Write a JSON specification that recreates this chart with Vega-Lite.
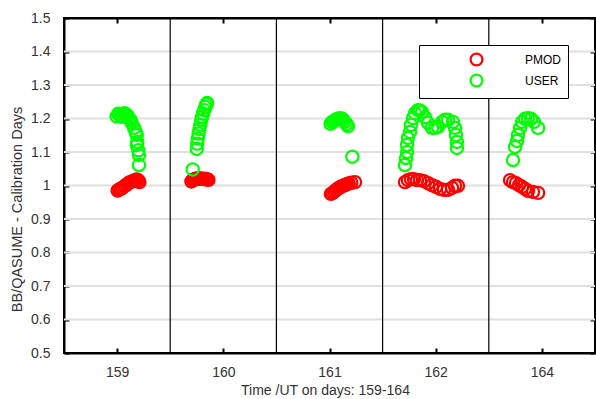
{
  "$schema": "https://vega.github.io/schema/vega-lite/v6.json",
  "width": 531,
  "height": 335,
  "autosize": {"type": "none"},
  "padding": {"left": 64, "top": 18, "right": 1, "bottom": 46},
  "background": "white",
  "config": {
    "view": {"stroke": "#000", "strokeWidth": 2},
    "font": "Liberation Sans",
    "axis": {
      "labelFont": "Liberation Sans",
      "titleFont": "Liberation Sans",
      "labelFontSize": 14,
      "titleFontSize": 14,
      "labelColor": "#333",
      "titleColor": "#333",
      "titleFontWeight": "normal",
      "domainColor": "#000",
      "domainWidth": 2,
      "tickColor": "#000",
      "tickWidth": 2,
      "tickSize": -5,
      "grid": false
    }
  },
  "layer": [
    {
      "data": {"values": [{"g": 0.6}, {"g": 0.7}, {"g": 0.8}, {"g": 0.9}, {"g": 1.0}, {"g": 1.1}, {"g": 1.2}, {"g": 1.3}, {"g": 1.4}]},
      "mark": {"type": "rule", "color": "#e0e0e0", "strokeWidth": 2},
      "encoding": {
        "y": {
          "field": "g", "type": "quantitative",
          "scale": {"domain": [0.5, 1.5], "nice": false, "zero": false},
          "axis": {"orient": "right", "labels": false, "title": null, "values": [0.5, 0.6, 0.7, 0.8, 0.9, 1.0, 1.1, 1.2, 1.3, 1.4, 1.5]}
        }
      }
    },
    {
      "data": {"values": [{"sep": 1.5}, {"sep": 2.5}, {"sep": 3.5}, {"sep": 4.5}]},
      "mark": {"type": "rule", "color": "#000", "strokeWidth": 1.2},
      "encoding": {
        "x": {
          "field": "sep", "type": "quantitative",
          "scale": {"domain": [0.5, 5.5], "nice": false, "zero": false},
          "axis": {"orient": "top", "labels": false, "title": null, "values": [1, 2, 3, 4, 5]}
        }
      }
    },
    {
      "data": {"values": [
        {"x": 1.005, "y": 0.985, "series": "PMOD"},
        {"x": 1.02, "y": 0.988, "series": "PMOD"},
        {"x": 1.035, "y": 0.99, "series": "PMOD"},
        {"x": 1.05, "y": 0.993, "series": "PMOD"},
        {"x": 1.065, "y": 0.997, "series": "PMOD"},
        {"x": 1.08, "y": 1.0, "series": "PMOD"},
        {"x": 1.095, "y": 1.004, "series": "PMOD"},
        {"x": 1.11, "y": 1.008, "series": "PMOD"},
        {"x": 1.125, "y": 1.01, "series": "PMOD"},
        {"x": 1.14, "y": 1.012, "series": "PMOD"},
        {"x": 1.155, "y": 1.014, "series": "PMOD"},
        {"x": 1.17, "y": 1.016, "series": "PMOD"},
        {"x": 1.185, "y": 1.018, "series": "PMOD"},
        {"x": 1.2, "y": 1.015, "series": "PMOD"},
        {"x": 1.21, "y": 1.01, "series": "PMOD"},
        {"x": 1.7, "y": 1.012, "series": "PMOD"},
        {"x": 1.712, "y": 1.016, "series": "PMOD"},
        {"x": 1.725, "y": 1.018, "series": "PMOD"},
        {"x": 1.74, "y": 1.02, "series": "PMOD"},
        {"x": 1.755, "y": 1.021, "series": "PMOD"},
        {"x": 1.77, "y": 1.02, "series": "PMOD"},
        {"x": 1.785, "y": 1.021, "series": "PMOD"},
        {"x": 1.8, "y": 1.02, "series": "PMOD"},
        {"x": 1.815, "y": 1.019, "series": "PMOD"},
        {"x": 1.83, "y": 1.02, "series": "PMOD"},
        {"x": 1.845, "y": 1.018, "series": "PMOD"},
        {"x": 1.86, "y": 1.017, "series": "PMOD"},
        {"x": 3.014, "y": 0.975, "series": "PMOD"},
        {"x": 3.03, "y": 0.978, "series": "PMOD"},
        {"x": 3.045, "y": 0.982, "series": "PMOD"},
        {"x": 3.06, "y": 0.986, "series": "PMOD"},
        {"x": 3.075, "y": 0.99, "series": "PMOD"},
        {"x": 3.09, "y": 0.993, "series": "PMOD"},
        {"x": 3.105, "y": 0.996, "series": "PMOD"},
        {"x": 3.12, "y": 0.998, "series": "PMOD"},
        {"x": 3.135, "y": 1.0, "series": "PMOD"},
        {"x": 3.15, "y": 1.002, "series": "PMOD"},
        {"x": 3.165, "y": 1.004, "series": "PMOD"},
        {"x": 3.18, "y": 1.006, "series": "PMOD"},
        {"x": 3.205, "y": 1.008, "series": "PMOD"},
        {"x": 3.24, "y": 1.01, "series": "PMOD"},
        {"x": 3.711, "y": 1.01, "series": "PMOD"},
        {"x": 3.739, "y": 1.016, "series": "PMOD"},
        {"x": 3.767, "y": 1.019, "series": "PMOD"},
        {"x": 3.795, "y": 1.019, "series": "PMOD"},
        {"x": 3.824, "y": 1.016, "series": "PMOD"},
        {"x": 3.852, "y": 1.016, "series": "PMOD"},
        {"x": 3.89, "y": 1.013, "series": "PMOD"},
        {"x": 3.928, "y": 1.007, "series": "PMOD"},
        {"x": 3.965, "y": 1.001, "series": "PMOD"},
        {"x": 4.003, "y": 0.996, "series": "PMOD"},
        {"x": 4.041, "y": 0.99, "series": "PMOD"},
        {"x": 4.078, "y": 0.987, "series": "PMOD"},
        {"x": 4.116, "y": 0.987, "series": "PMOD"},
        {"x": 4.154, "y": 0.993, "series": "PMOD"},
        {"x": 4.182, "y": 0.999, "series": "PMOD"},
        {"x": 4.209, "y": 0.999, "series": "PMOD"},
        {"x": 4.7, "y": 1.016, "series": "PMOD"},
        {"x": 4.728, "y": 1.01, "series": "PMOD"},
        {"x": 4.756, "y": 1.007, "series": "PMOD"},
        {"x": 4.784, "y": 1.001, "series": "PMOD"},
        {"x": 4.813, "y": 0.996, "series": "PMOD"},
        {"x": 4.841, "y": 0.99, "series": "PMOD"},
        {"x": 4.869, "y": 0.984, "series": "PMOD"},
        {"x": 4.916, "y": 0.981, "series": "PMOD"},
        {"x": 4.964, "y": 0.978, "series": "PMOD"},
        {"x": 0.995, "y": 1.206, "series": "USER"},
        {"x": 1.01, "y": 1.214, "series": "USER"},
        {"x": 1.025, "y": 1.21, "series": "USER"},
        {"x": 1.04, "y": 1.205, "series": "USER"},
        {"x": 1.055, "y": 1.212, "series": "USER"},
        {"x": 1.07, "y": 1.216, "series": "USER"},
        {"x": 1.085, "y": 1.212, "series": "USER"},
        {"x": 1.1, "y": 1.208, "series": "USER"},
        {"x": 1.115, "y": 1.2, "series": "USER"},
        {"x": 1.128, "y": 1.195, "series": "USER"},
        {"x": 1.137, "y": 1.187, "series": "USER"},
        {"x": 1.16, "y": 1.172, "series": "USER"},
        {"x": 1.175, "y": 1.16, "series": "USER"},
        {"x": 1.185, "y": 1.151, "series": "USER"},
        {"x": 1.19, "y": 1.13, "series": "USER"},
        {"x": 1.185, "y": 1.121, "series": "USER"},
        {"x": 1.2, "y": 1.105, "series": "USER"},
        {"x": 1.206, "y": 1.091, "series": "USER"},
        {"x": 1.206, "y": 1.061, "series": "USER"},
        {"x": 1.712, "y": 1.048, "series": "USER"},
        {"x": 1.75, "y": 1.109, "series": "USER"},
        {"x": 1.755, "y": 1.125, "series": "USER"},
        {"x": 1.76, "y": 1.14, "series": "USER"},
        {"x": 1.768, "y": 1.155, "series": "USER"},
        {"x": 1.775, "y": 1.168, "series": "USER"},
        {"x": 1.783, "y": 1.18, "series": "USER"},
        {"x": 1.792, "y": 1.195, "series": "USER"},
        {"x": 1.8, "y": 1.205, "series": "USER"},
        {"x": 1.81, "y": 1.215, "series": "USER"},
        {"x": 1.82, "y": 1.225, "series": "USER"},
        {"x": 1.83, "y": 1.234, "series": "USER"},
        {"x": 1.84, "y": 1.242, "series": "USER"},
        {"x": 1.848, "y": 1.246, "series": "USER"},
        {"x": 3.01, "y": 1.184, "series": "USER"},
        {"x": 3.025, "y": 1.19, "series": "USER"},
        {"x": 3.04, "y": 1.192, "series": "USER"},
        {"x": 3.055, "y": 1.196, "series": "USER"},
        {"x": 3.07, "y": 1.198, "series": "USER"},
        {"x": 3.085, "y": 1.2, "series": "USER"},
        {"x": 3.1, "y": 1.2, "series": "USER"},
        {"x": 3.115, "y": 1.2, "series": "USER"},
        {"x": 3.13, "y": 1.196, "series": "USER"},
        {"x": 3.145, "y": 1.19, "series": "USER"},
        {"x": 3.16, "y": 1.183, "series": "USER"},
        {"x": 3.174, "y": 1.177, "series": "USER"},
        {"x": 3.215, "y": 1.086, "series": "USER"},
        {"x": 3.711, "y": 1.061, "series": "USER"},
        {"x": 3.72, "y": 1.082, "series": "USER"},
        {"x": 3.73, "y": 1.1, "series": "USER"},
        {"x": 3.73, "y": 1.121, "series": "USER"},
        {"x": 3.739, "y": 1.142, "series": "USER"},
        {"x": 3.758, "y": 1.16, "series": "USER"},
        {"x": 3.767, "y": 1.181, "series": "USER"},
        {"x": 3.786, "y": 1.201, "series": "USER"},
        {"x": 3.805, "y": 1.216, "series": "USER"},
        {"x": 3.833, "y": 1.225, "series": "USER"},
        {"x": 3.85, "y": 1.224, "series": "USER"},
        {"x": 3.871, "y": 1.219, "series": "USER"},
        {"x": 3.899, "y": 1.204, "series": "USER"},
        {"x": 3.928, "y": 1.187, "series": "USER"},
        {"x": 3.965, "y": 1.172, "series": "USER"},
        {"x": 3.994, "y": 1.172, "series": "USER"},
        {"x": 4.022, "y": 1.175, "series": "USER"},
        {"x": 4.06, "y": 1.19, "series": "USER"},
        {"x": 4.088, "y": 1.196, "series": "USER"},
        {"x": 4.116, "y": 1.196, "series": "USER"},
        {"x": 4.163, "y": 1.19, "series": "USER"},
        {"x": 4.182, "y": 1.172, "series": "USER"},
        {"x": 4.191, "y": 1.151, "series": "USER"},
        {"x": 4.2, "y": 1.13, "series": "USER"},
        {"x": 4.2, "y": 1.112, "series": "USER"},
        {"x": 4.728, "y": 1.076, "series": "USER"},
        {"x": 4.747, "y": 1.115, "series": "USER"},
        {"x": 4.766, "y": 1.133, "series": "USER"},
        {"x": 4.775, "y": 1.151, "series": "USER"},
        {"x": 4.794, "y": 1.172, "series": "USER"},
        {"x": 4.813, "y": 1.19, "series": "USER"},
        {"x": 4.841, "y": 1.199, "series": "USER"},
        {"x": 4.869, "y": 1.201, "series": "USER"},
        {"x": 4.898, "y": 1.199, "series": "USER"},
        {"x": 4.926, "y": 1.19, "series": "USER"},
        {"x": 4.964, "y": 1.172, "series": "USER"}
      ]},
      "mark": {"type": "point", "shape": "circle", "filled": false, "strokeWidth": 2.2, "size": 150, "opacity": 1},
      "encoding": {
        "x": {
          "field": "x", "type": "quantitative",
          "scale": {"domain": [0.5, 5.5], "nice": false, "zero": false},
          "axis": {
            "orient": "bottom",
            "values": [1, 2, 3, 4, 5],
            "labelExpr": "['159','160','161','162','164'][datum.value - 1]",
            "labelPadding": 17,
            "title": "Time /UT on days: 159-164",
            "titleX": 261,
            "titleY": 41,
            "titleBaseline": "alphabetic"
          }
        },
        "y": {
          "field": "y", "type": "quantitative",
          "scale": {"domain": [0.5, 1.5], "nice": false, "zero": false},
          "axis": {
            "orient": "left",
            "values": [0.5, 0.6, 0.7, 0.8, 0.9, 1.0, 1.1, 1.2, 1.3, 1.4, 1.5],
            "format": ".1~f",
            "labelPadding": 19,
            "title": "BB/QASUME - Calibration Days",
            "titleFontSize": 14.5,
            "titleX": -47,
            "titleY": 191,
            "titleAlign": "center",
            "titleBaseline": "middle",
            "titleAngle": -90
          }
        },
        "color": {
          "field": "series", "type": "nominal",
          "scale": {"domain": ["PMOD", "USER"], "range": ["#ff0000", "#00ff00"]},
          "legend": {
            "orient": "none",
            "legendX": 355,
            "legendY": 27,
            "title": null,
            "padding": 7,
            "strokeColor": "#000",
            "fillColor": "#fff",
            "symbolType": "circle",
            "symbolSize": 140,
            "symbolStrokeWidth": 2.2,
            "symbolOffset": 43,
            "labelOffset": 41,
            "labelFont": "Liberation Sans",
            "labelFontSize": 12,
            "labelColor": "#000",
            "labelExpr": "datum.label + ' '",
            "rowPadding": 0,
            "encode": {"legend": {"update": {"strokeWidth": {"value": 2.5}}}}
          }
        }
      }
    }
  ],
  "resolve": {"axis": {"x": "independent", "y": "independent"}}
}
